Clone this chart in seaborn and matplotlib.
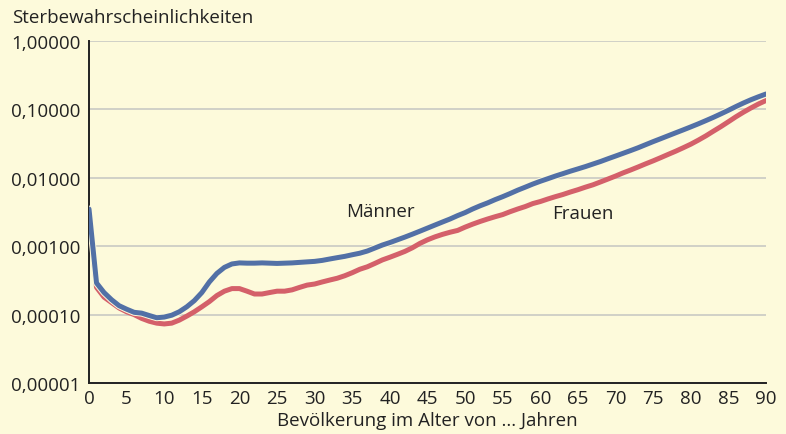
import numpy as np
import pandas as pd
import matplotlib
matplotlib.use("Agg")
import matplotlib.pyplot as plt
import matplotlib.patheffects as pe
from matplotlib.ticker import FixedLocator, MultipleLocator, FuncFormatter
import seaborn as sns

# Sterbewahrscheinlichkeiten nach Alter (0 bis 90 Jahre)
alter = list(range(0, 91))

maenner = [
    0.0035, 0.00029, 0.00021, 0.000165, 0.000135, 0.00012, 0.000108, 0.000105, 0.000097, 0.00009,
    0.000092, 0.000098, 0.00011, 0.00013, 0.00016, 0.00021, 0.0003, 0.0004, 0.00049, 0.00055,
    0.00057, 0.000565, 0.000565, 0.00057, 0.000565, 0.00056, 0.000565, 0.00057, 0.00058, 0.00059,
    0.0006, 0.00062, 0.00065, 0.00068, 0.00071, 0.00075, 0.00079, 0.00085, 0.00094, 0.00104,
    0.00113, 0.00124, 0.00136, 0.0015, 0.00166, 0.00184, 0.00204, 0.00226, 0.0025, 0.0028,
    0.0031, 0.0035, 0.0039, 0.0043, 0.0048, 0.0053, 0.0059, 0.0066, 0.0073, 0.0081,
    0.0089, 0.0097, 0.0106, 0.0115, 0.0125, 0.0135, 0.0146, 0.0159, 0.0173, 0.0190,
    0.0208, 0.0228, 0.0250, 0.0275, 0.0305, 0.0338, 0.0373, 0.0412, 0.0455, 0.0502,
    0.0555, 0.0615, 0.0685, 0.0765, 0.0860, 0.0970, 0.1100, 0.1240, 0.1385, 0.1530,
    0.1680,
]

frauen = [
    0.0029, 0.00025, 0.00018, 0.00015, 0.000125, 0.00011, 0.0001, 0.000088, 0.00008, 0.000075,
    0.000073, 0.000075, 0.000083, 0.000095, 0.00011, 0.00013, 0.000155, 0.00019, 0.00022, 0.00024,
    0.00024, 0.00022, 0.0002, 0.0002, 0.00021, 0.00022, 0.00022, 0.00023, 0.00025, 0.00027,
    0.00028, 0.0003, 0.00032, 0.00034, 0.00037, 0.00041, 0.00046, 0.0005, 0.00056, 0.00063,
    0.00069, 0.00076, 0.00084, 0.00095, 0.0011, 0.00124, 0.00137, 0.00149, 0.0016, 0.0017,
    0.0019, 0.0021, 0.0023, 0.0025, 0.0027, 0.0029, 0.0032, 0.0035, 0.0038, 0.0042,
    0.0045, 0.0049, 0.0053, 0.0057, 0.0062, 0.0067, 0.0073, 0.0079, 0.0087, 0.0096,
    0.0106, 0.0118, 0.013, 0.0144, 0.016, 0.0177, 0.0197, 0.022, 0.0245, 0.0275,
    0.031, 0.0355, 0.041, 0.048, 0.056, 0.066, 0.078, 0.091, 0.105, 0.120,
    0.135,
]

y_ticks = [0.00001, 0.0001, 0.001, 0.01, 0.1, 1.0]

bg = "#fdfadb"
blau = "#5270a6"
rot = "#d4606a"
txt = "#222222"

df = pd.DataFrame({
    "alter": alter * 2,
    "wert": frauen + maenner,
    "geschlecht": ["Frauen"] * len(alter) + ["Männer"] * len(alter),
})

sns.set_style("white")
plt.rcParams["font.family"] = ["Open Sans", "DejaVu Sans"]

fig = plt.figure(figsize=(7.86, 4.35), dpi=100, facecolor=bg)
ax = fig.add_axes([89 / 786, 1 - 384 / 435, (766 - 89) / 786, (384 - 42) / 435])
ax.set_facecolor(bg)

sns.lineplot(data=df, x="alter", y="wert", hue="geschlecht",
             palette={"Frauen": rot, "Männer": blau}, linewidth=3.6,
             legend=False, ax=ax, zorder=3)
ax.lines[1].set_path_effects([pe.Stroke(linewidth=5.0, foreground=bg), pe.Normal()])

ax.set_yscale("log")
ax.set_ylim(1e-5, 1)
ax.set_xlim(0, 90)

ax.yaxis.set_major_locator(FixedLocator(y_ticks))
ax.yaxis.set_minor_locator(FixedLocator([]))
ax.yaxis.set_major_formatter(FuncFormatter(lambda v, p: f"{v:.5f}".replace(".", ",")))
ax.tick_params(axis="y", length=0, pad=6, labelsize=13.5, colors=txt)
ax.grid(axis="y", color="#c9c9c4", linewidth=1.2, zorder=1)

ax.xaxis.set_major_locator(MultipleLocator(5))
ax.xaxis.set_minor_locator(MultipleLocator(1))
ax.tick_params(axis="x", which="major", direction="in", length=11, width=1.2,
               color=txt, labelsize=13.5, pad=4, labelcolor=txt)
ax.tick_params(axis="x", which="minor", direction="in", length=6, width=1.2, color=txt)

for s in ["top", "right"]:
    ax.spines[s].set_visible(False)
for s in ["left", "bottom"]:
    ax.spines[s].set_color(txt)
    ax.spines[s].set_linewidth(1.4)

ax.set_xlabel("Bevölkerung im Alter von ... Jahren", fontsize=13.5, color=txt, labelpad=3)
ax.set_ylabel("")

ax.text(38.7, 0.0033, "Männer", fontsize=13.5, color=txt, ha="center", va="center")
ax.text(65.7, 0.0031, "Frauen", fontsize=13.5, color=txt, ha="center", va="center")

fig.text(12 / 786, 1 - 18 / 435, "Sterbewahrscheinlichkeiten", fontsize=13.5,
         color=txt, ha="left", va="center")

fig.savefig("out.png", dpi=100, facecolor=bg)
